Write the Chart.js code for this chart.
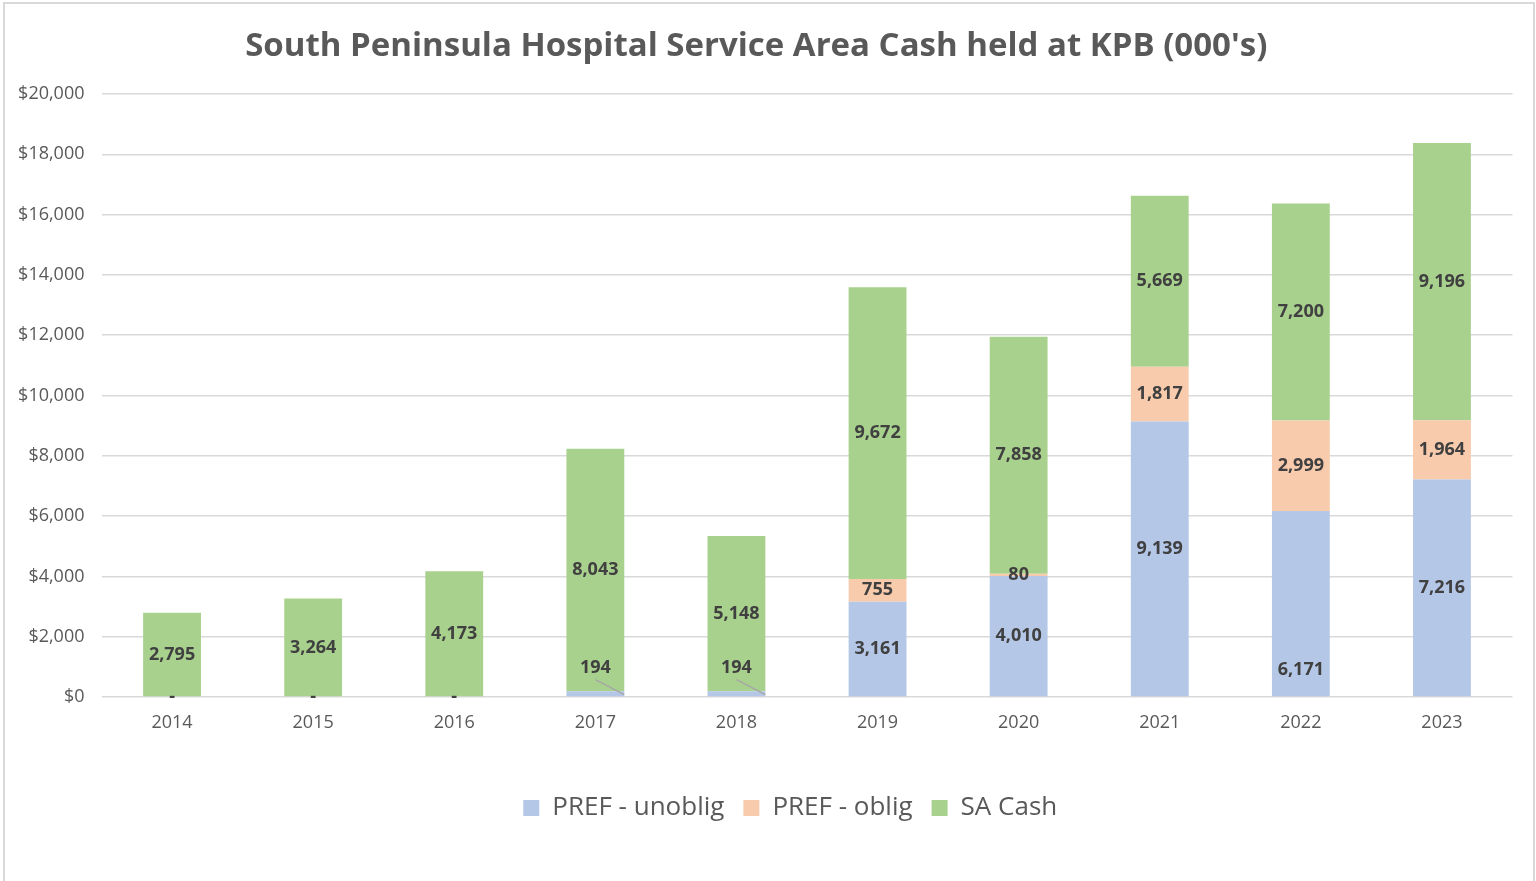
<!DOCTYPE html>
<html><head><meta charset="utf-8">
<script src="https://cdn.jsdelivr.net/npm/chart.js@4.4.0/dist/chart.umd.min.js"></script>
<style>
html,body{margin:0;padding:0;background:#fff;overflow:hidden;}
#wrap{position:absolute;left:0;top:0;width:1536px;height:881px;}
#frame{position:absolute;left:3px;top:2px;width:1532px;height:900px;border:2px solid #d9d9d9;box-sizing:border-box;pointer-events:none;}
</style></head><body>
<div id="wrap"><canvas id="c" width="1536" height="881"></canvas></div>
<div id="frame"></div>
<script>
const years = ['2014','2015','2016','2017','2018','2019','2020','2021','2022','2023'];
const prefUnoblig = [0,0,0,194,194,3161,4010,9139,6171,7216];
const prefOblig   = [0,0,0,0,0,755,80,1817,2999,1964];
const saCash      = [2795,3264,4173,8043,5148,9672,7858,5669,7200,9196];
const seriesNames = ['PREF - unoblig','PREF - oblig','SA Cash'];
const yMax = 20000, yStep = 2000;

const FONT = "'Open Sans', sans-serif";
const fmt = v => v.toLocaleString('en-US');

const labelPlugin = {
  id: 'segLabels',
  afterLayout(chart, args, opts) {
    // Legend sits slightly right of centre in the reference
    const lg = chart.legend;
    if (lg) { lg.left += opts.legendShift; lg.right += opts.legendShift; }
  },
  afterDatasetsDraw(chart, args, opts) {
    const ctx = chart.ctx;
    ctx.save();
    ctx.font = "bold 18px " + FONT;
    ctx.fillStyle = '#404040';
    ctx.textAlign = 'center';
    ctx.textBaseline = 'middle';
    chart.data.datasets.forEach((ds, di) => {
      const meta = chart.getDatasetMeta(di);
      meta.data.forEach((el, i) => {
        const v = ds.data[i];
        const key = di + '-' + i;
        if (v === 0) {
          if (di === 0) ctx.fillText('-', el.x, el.base);
          return;
        }
        const cy = (el.y + el.base) / 2 + (opts.offsets[key] || 0);
        if (opts.leaders.includes(key)) {
          ctx.save();
          ctx.strokeStyle = '#a6a6a6';
          ctx.lineWidth = 1.5;
          ctx.beginPath();
          ctx.moveTo(el.x, cy + 12);
          ctx.lineTo(el.x + el.width / 2, (el.y + el.base) / 2 + 1);
          ctx.stroke();
          ctx.restore();
        }
        ctx.fillText(fmt(v), el.x, cy);
      });
    });
    ctx.restore();
  }
};

const colors = ['#b4c7e7', '#f8cbad', '#a9d18e'];
const values = [prefUnoblig, prefOblig, saCash];

new Chart(document.getElementById('c'), {
  type: 'bar',
  data: {
    labels: years,
    datasets: values.map((arr, k) => ({
      label: seriesNames[k],
      data: arr,
      backgroundColor: colors[k],
      borderWidth: 0,
      categoryPercentage: 1.0,
      barPercentage: 0.41
    }))
  },
  options: {
    responsive: false,
    animation: false,
    devicePixelRatio: 1,
    layout: { padding: { left: 0, right: 23.5, top: 8, bottom: 50 } },
    plugins: {
      title: {
        display: true,
        text: "South Peninsula Hospital Service Area Cash held at KPB (000's)",
        color: '#595959',
        font: { family: FONT, size: 33, weight: 'bold' },
        padding: { top: 19, bottom: 27.4 }
      },
      legend: {
        position: 'bottom',
        labels: {
          color: '#595959',
          font: { family: FONT, size: 26 },
          boxWidth: 16, boxHeight: 16,
          padding: 19
        }
      },
      tooltip: { enabled: false },
      segLabels: {
        legendShift: 34,
        offsets: { '0-3': -26, '0-4': -26, '0-7': -10, '0-8': 66 },
        leaders: ['0-3', '0-4']
      }
    },
    scales: {
      x: {
        stacked: true,
        grid: { display: false },
        border: { display: false },
        ticks: { color: '#595959', font: { family: FONT, size: 18 }, padding: 7 },
        afterFit(s) { s.height = 79; }
      },
      y: {
        stacked: true,
        min: 0, max: yMax,
        ticks: {
          stepSize: yStep,
          color: '#595959',
          font: { family: FONT, size: 18 },
          padding: 17,
          callback: v => '$' + fmt(v)
        },
        grid: { color: '#d9d9d9', lineWidth: 1.5, drawTicks: false },
        border: { display: false },
        afterFit(s) { s.width = 101.5; }
      }
    }
  },
  plugins: [labelPlugin]
});
</script>
</body></html>
